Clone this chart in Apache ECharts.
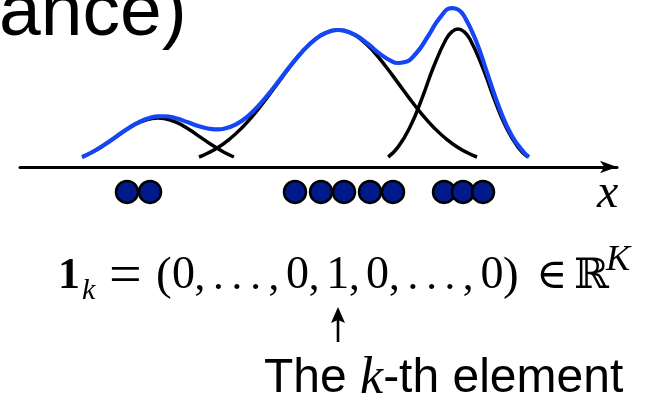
<!DOCTYPE html>
<html><head><meta charset="utf-8">
<script src="https://cdn.jsdelivr.net/npm/echarts@6/dist/echarts.min.js"></script>
<style>html,body{margin:0;padding:0;background:#fff}#c{width:646px;height:401px}</style>
</head><body><div id="c"></div>
<script>
// component curves (x in axis units, height as density)
const compAX = [10.35,12,14,16,18,20,22,23,24,26,28,30,32,34,35.65];
const compAY = [0.0625,0.0921,0.1370,0.1882,0.2388,0.2799,0.3030,0.306,0.3030,0.2799,0.2388,0.1882,0.1370,0.0921,0.0625];
const compBX = [29.83,31,33,35,37,39,41,43,45,47,49,51,53,55,57,59,61,63,65,67,69,71,73,75,76.17];
const compBY = [0.0625,0.0810,0.1219,0.1765,0.2458,0.3293,0.4243,0.5258,0.6267,0.7183,0.7918,0.8395,0.856,0.8395,0.7918,0.7183,0.6267,0.5258,0.4243,0.3293,0.2458,0.1765,0.1219,0.0810,0.0625];
const compCX = [61.36,63,65,67,69,71,72,73,74,75,77,79,81,83,84.64];
const compCY = [0.0625,0.1242,0.2495,0.4293,0.6326,0.7982,0.8459,0.8625,0.8459,0.7982,0.6326,0.4293,0.2495,0.1242,0.0625];
// mixture curve (blue)
const mixX = [10.35,12,14,16,18,20,22,23,24,26,28,30,32,33,34,36,38,40,42,44,46,48,50,52,53,54,56,58,60,62,63,64,66,68,70,72,73,74,76,78,80,82,84,84.85];
const mixY = [0.0625,0.0923,0.1375,0.1893,0.2410,0.2841,0.3109,0.3167,0.3172,0.3044,0.2795,0.2532,0.2368,0.2354,0.2395,0.2666,0.3187,0.3931,0.4832,0.5808,0.6758,0.7584,0.8193,0.8520,0.8564,0.8526,0.8225,0.7688,0.7068,0.6596,0.6500,0.6542,0.7094,0.8172,0.9339,0.9933,0.9844,0.9457,0.7895,0.5720,0.3582,0.1937,0.0906,0.0625];
// data points below the axis
const pointsX = [17.83,21.67,45.83,50.17,54,58.33,62.17,70.67,73.83,77.17];
const pointsY = [-0.156,-0.156,-0.156,-0.156,-0.156,-0.156,-0.156,-0.156,-0.156,-0.156];

function pairs(xs, ys){ return xs.map((x,i)=>[x, ys[i]]); }
const chart = echarts.init(document.getElementById('c'), null, {renderer:'canvas'});
const black = (name, xs, ys) => ({
  name, type:'line', data:pairs(xs,ys), smooth:true, showSymbol:false, symbol:'none',
  lineStyle:{color:'#000', width:3.5}, z:2, silent:true
});
const SANS = '"Liberation Sans", Arial, sans-serif';
const SERIF = '"Liberation Serif", "DejaVu Serif", serif';
const DJ = '"DejaVu Serif", serif';
// place text by its alphabetic baseline (middle alignment offset per family)
function txt(x, base, text, size, family, style, k){
  const off = (k || 0.34) * size;
  return {type:'text', x, y: base - off, silent:true,
    style:{text, font:(style ? style + ' ' : '') + size + 'px ' + family, fill:'#000',
      align:'left', verticalAlign:'middle', textAlign:'left', textVerticalAlign:'middle'}};
}
const B = 292; // formula baseline
const D = 46;  // digit size
const F = 43;  // punctuation size
const formula = [
  txt(58, B, '1', 44, SERIF, 'bold'),
  txt(82, B + 9, 'k', 30, SERIF, 'italic'),
  txt(109, B + 5, '=', 58, SERIF),
  txt(156, B + 1, '(', 47, SERIF),
  txt(172, B, '0', D, SERIF), txt(194.5, B, ',', F, SERIF),
  txt(213, B, '.', F, SERIF), txt(231.6, B, '.', F, SERIF), txt(250.3, B, '.', F, SERIF),
  txt(268.4, B, ',', F, SERIF),
  txt(286, B, '0', D, SERIF), txt(308.8, B, ',', F, SERIF),
  txt(326.2, B, '1', D, SERIF), txt(349, B, ',', F, SERIF),
  txt(366, B, '0', D, SERIF), txt(389, B, ',', F, SERIF),
  txt(407.6, B, '.', F, SERIF), txt(426.2, B, '.', F, SERIF), txt(444.6, B, '.', F, SERIF),
  txt(462.8, B, ',', F, SERIF),
  txt(480.5, B, '0', D, SERIF), txt(503, B + 1, ')', 47, SERIF),
  txt(536, B, '∈', 42, DJ, '', 0.346),
  txt(574, B, 'ℝ', 42, DJ, '', 0.346),
  txt(606, B - 19, 'K', 36, SERIF, 'italic')
];
chart.setOption({
  animation:false,
  grid:{left:20, right:29, top:7, bottom:194},
  xAxis:{type:'value', min:0, max:99.5,
    axisLine:{show:true, onZero:true, symbol:['none','arrow'], symbolSize:[9.5,17], lineStyle:{color:'#000', width:3}},
    axisTick:{show:false}, axisLabel:{show:false}, splitLine:{show:false}},
  yAxis:{type:'value', min:-0.25, max:1, show:false, splitLine:{show:false}},
  series:[
    black('A', compAX, compAY),
    black('B', compBX, compBY),
    black('C', compCX, compCY),
    {name:'mixture', type:'line', data:pairs(mixX, mixY), smooth:true, showSymbol:false, symbol:'none',
      lineStyle:{color:'#1446f5', width:4.2}, z:3, silent:true},
    {name:'points', type:'scatter', data:pairs(pointsX, pointsY), symbol:'circle', symbolSize:22,
      itemStyle:{color:'#001a8c', borderColor:'#000', borderWidth:2.5, opacity:1}, z:4, silent:true}
  ],
  graphic:[
    txt(-1, 40, 'ance)', 75, SANS, '', 0.3465),
    txt(597, 211, 'x', 48, SERIF, 'italic'),
    ...formula,
    {type:'line', silent:true, shape:{x1:338, y1:342, x2:338, y2:318}, style:{stroke:'#000', lineWidth:2.6}},
    {type:'polygon', silent:true, shape:{points:[[338,307],[345,323],[338,320],[331,323]]}, style:{fill:'#000'}},
    {type:'text', x:264, y:379, silent:true, style:{
      text:'{a|The }{k|k}{a|-th element}', fill:'#000', align:'left', verticalAlign:'middle', textAlign:'left', textVerticalAlign:'middle',
      rich:{a:{font:'48px ' + SANS, fill:'#000'}, k:{font:'italic 52px ' + SERIF, fill:'#000'}}}}
  ]
});
</script></body></html>
